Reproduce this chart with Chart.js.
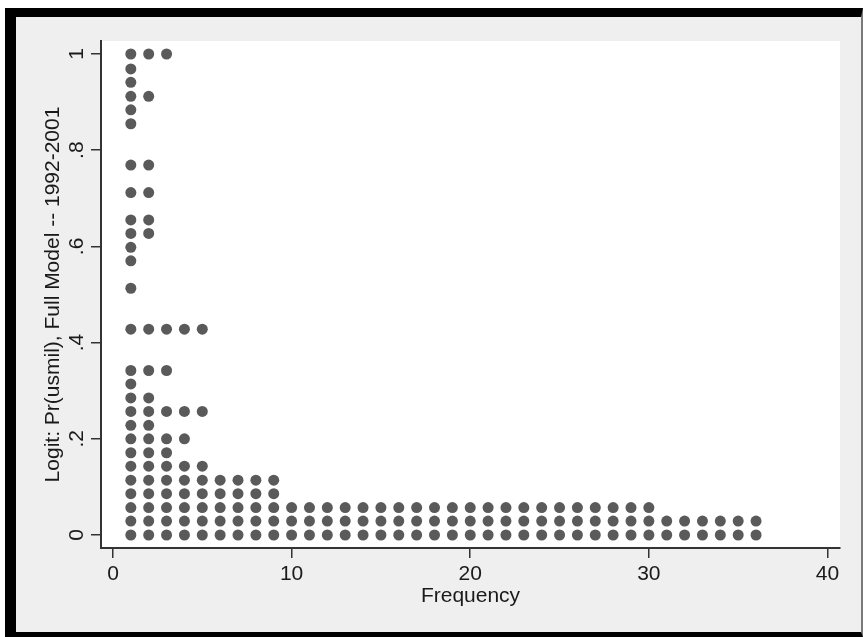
<!DOCTYPE html>
<html>
<head>
<meta charset="utf-8">
<script src="https://cdn.jsdelivr.net/npm/chart.js@4/dist/chart.umd.min.js"></script>
<style>
  body { margin: 0; background: #ffffff; }
  .frame {
    position: absolute;
    left: 5px;
    top: 8px;
    width: 845px;
    height: 615px;
    border-top: 9px solid #000;
    border-left: 11px solid #000;
    border-bottom: 5px solid #000;
    border-right: 2px solid #7a7a7a;
    background: #efefef;
  }
  canvas { display: block; }
</style>
</head>
<body>
<div class="frame"><canvas id="dots" width="845" height="615"></canvas></div>
<script>
// predicted probability levels (bins) and how many observations fall in each
const levels = [1.0, 0.969, 0.941, 0.912, 0.884, 0.855, 0.769, 0.712, 0.655, 0.627, 0.598, 0.570, 0.513,
                0.428, 0.342, 0.314, 0.285, 0.257, 0.228, 0.200, 0.171, 0.143, 0.114, 0.086, 0.057, 0.029, 0.0];
const counts = [3, 1, 1, 2, 1, 1, 2, 2, 2, 2, 1, 1, 1,
                5, 3, 1, 2, 5, 2, 4, 3, 5, 9, 9, 30, 36, 36];
const xTicks = [0, 10, 20, 30, 40];
const yTicks = [0, 0.2, 0.4, 0.6, 0.8, 1];

// one dot per observation: frequency position 1..count on each level
const points = [];
levels.forEach((lv, i) => {
    for (let k = 1; k <= counts[i]; k++) {
        points.push({ x: k, y: lv });
    }
});

const fontFam = '"Liberation Sans", Arial, sans-serif';

const plotBg = {
    id: 'plotBg',
    beforeDraw(chart) {
        const a = chart.chartArea;
        const ctx = chart.ctx;
        ctx.save();
        ctx.fillStyle = '#ffffff';
        ctx.fillRect(a.left, a.top, a.right - a.left, a.bottom - a.top);
        ctx.restore();
    }
};

function fmtY(v) {
    const r = Math.round(v * 10) / 10;
    if (r === 0) return '0';
    if (r === 1) return '1';
    return String(r).replace(/^0\./, '.');
}

new Chart(document.getElementById('dots'), {
    type: 'scatter',
    data: {
        datasets: [{
            data: points,
            backgroundColor: '#5a5a5a',
            borderWidth: 0,
            pointRadius: 5.5,
            pointHoverRadius: 5.5
        }]
    },
    options: {
        responsive: false,
        animation: false,
        layout: { padding: { left: 0, top: 24, right: 21, bottom: 0 } },
        plugins: {
            legend: { display: false },
            tooltip: { enabled: false }
        },
        scales: {
            x: {
                type: 'linear',
                min: -0.67,
                max: 40.7,
                afterFit(scale) { scale.height = 84; },
                afterBuildTicks(scale) { scale.ticks = xTicks.map(v => ({ value: v })); },
                border: { display: true, color: '#333', width: 2 },
                grid: { drawOnChartArea: false, drawTicks: true, tickLength: 10, color: '#333', lineWidth: 1.5 },
                ticks: {
                    padding: 4,
                    color: '#1a1a1a',
                    font: { family: fontFam, size: 21 }
                },
                title: {
                    display: true,
                    text: 'Frequency',
                    color: '#1a1a1a',
                    font: { family: fontFam, size: 21 },
                    padding: { top: 0, bottom: 23 }
                }
            },
            y: {
                type: 'linear',
                min: -0.027,
                max: 1.027,
                afterFit(scale) { scale.width = 85; },
                afterBuildTicks(scale) { scale.ticks = yTicks.map(v => ({ value: v })); },
                border: { display: true, color: '#333', width: 2 },
                grid: { drawOnChartArea: false, drawTicks: true, tickLength: 10, color: '#333', lineWidth: 1.5 },
                ticks: {
                    minRotation: 90,
                    maxRotation: 90,
                    crossAlign: 'center',
                    padding: 5,
                    color: '#1a1a1a',
                    font: { family: fontFam, size: 21 },
                    callback: fmtY
                },
                title: {
                    display: true,
                    text: 'Logit: Pr(usmil), Full Model -- 1992-2001',
                    color: '#1a1a1a',
                    font: { family: fontFam, size: 21 },
                    padding: { top: 25, bottom: 0 }
                }
            }
        }
    },
    plugins: [plotBg]
});
</script>
</body>
</html>
